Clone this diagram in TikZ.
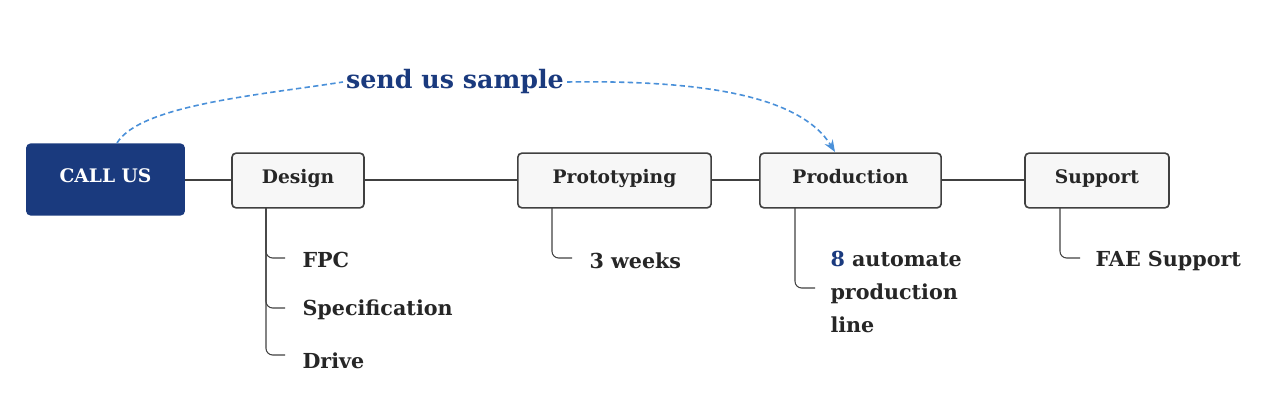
\documentclass[tikz,border=0pt]{standalone}
\usepackage{fontspec}
\setmainfont{DejaVu Serif}
\usetikzlibrary{arrows.meta}
\definecolor{navy}{RGB}{26,58,126}
\definecolor{skyline}{RGB}{74,144,217}
\definecolor{boxline}{RGB}{64,64,64}
\tikzset{every picture/.style={line width=0.75pt}}
\tikzset{
  stage/.style={draw=boxline,line width=1.2pt,fill={rgb,255:red,247;green,247;blue,247},rounded corners=3pt,inner sep=0pt,font=\bfseries\fontsize{14}{16}\selectfont,text=black!85,text height=8.5pt,text depth=4.5pt},
  leaf/.style={anchor=west,inner sep=0.75pt,font=\bfseries\fontsize{15.5}{24.5}\selectfont,text=black!85,align=left},
  branch/.style={draw=boxline,line width=0.8pt,rounded corners=5pt}
}
\begin{document}
\begin{tikzpicture}[x=0.75pt,y=0.75pt,yscale=-1,xscale=1]
\useasboundingbox (0,0) rectangle (1280,402);

% Stages
\node [stage,fill=navy,draw=navy,text=white,minimum width=118pt,minimum height=53pt] (call) at (105.5,179.5) {CALL US};
\node [stage,minimum width=99pt,minimum height=41pt] (design) at (298,180.5) {Design};
\node [stage,minimum width=145pt,minimum height=41pt] (proto) at (614.5,180.5) {Prototyping};
\node [stage,minimum width=136pt,minimum height=41pt] (prod) at (850.5,180.5) {Production};
\node [stage,minimum width=108pt,minimum height=41pt] (supp) at (1097,180.5) {Support};

% Main line
\draw [boxline,line width=1.5pt] (call.east |- design) -- (design) -- (proto) -- (prod) -- (supp);

% Leaves
\node [leaf] (fpc) at (301,260) {FPC};
\node [leaf] (spec) at (301,310) {Specification};
\node [leaf] (drive) at (301,361) {Drive};
\node [leaf] (weeks) at (588,261) {3 weeks};
\node [leaf,anchor=north west] (line) at (829,250) {\textcolor{navy}{8} automate\\production\\line};
\node [leaf] (fae) at (1094,261) {FAE Support};

\draw [branch] (266,208) |- (285,258);
\draw [branch] (266,208) |- (285,308);
\draw [branch] (266,208) |- (285,355);
\draw [branch] (552,208) |- (572,258);
\draw [branch] (795,208) |- (815,288);
\draw [branch] (1060,208) |- (1080,258);

% Sample loop
\node [inner sep=2pt,text=navy,font=\bfseries\fontsize{19}{22}\selectfont] (sample) at (455,82) {send us sample};
\draw [skyline,line width=1.2pt,dash pattern={on 4pt off 2.5pt}] (117,143) .. controls (140,105) and (260,95) .. (sample.west);
\draw [skyline,line width=1.2pt,dash pattern={on 4pt off 2.5pt},-{Stealth[length=9pt,width=7pt]}] (sample.east) .. controls (700,80) and (800,95) .. (835,152);
\end{tikzpicture}
\end{document}
